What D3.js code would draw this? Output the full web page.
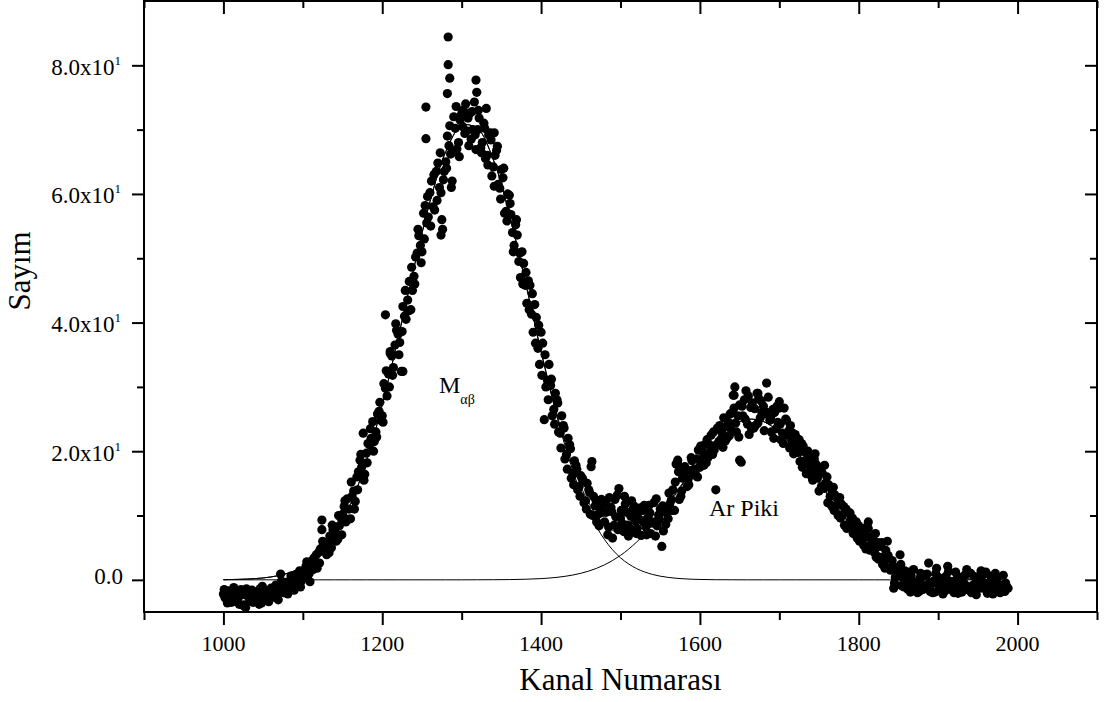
<!DOCTYPE html>
<html><head><meta charset="utf-8">
<script src="https://cdn.jsdelivr.net/npm/d3@7"></script>
<style>html,body{margin:0;padding:0;background:#fff;} svg{display:block;}</style>
</head><body><svg id="c" width="1104" height="702"></svg>
<script>
// ---- data ----
const channelStep = 4;
// counts at channels 1000, 1004, 1008, ...
const channelStartA = 1000;
const countsA = [
 -2.2,-3.0,-1.9,-3.4,-2.6,-3.8,-2.3,-4.3,-2.8,-1.6,
 -3.2,-2.5,-3.6,-1.8,-2.9,-1.3,-2.7,-0.9,0.9,-2.0,
 -0.5,-1.6,0.3,-1.0,1.4,0.2,2.1,1.0,3.0,2.2,
 4.3,9.3,4.6,5.8,5.0,7.4,6.3,9.6,11.4,12.6,
 9.5,13.8,16.0,18.6,22.8,19.7,21.0,24.6,23.0,26.2,
 25.5,29.8,32.0,34.8,36.5,38.2,32.4,41.0,43.5,42.0,
 47.2,50.8,52.0,57.0,55.5,60.2,58.0,63.5,61.0,54.5,
 65.0,67.5,62.0,70.2,68.0,72.5,69.4,71.8,68.5,74.3,
 70.0,67.2,71.0,66.0,69.5,64.2,66.8,60.9,62.5,57.3,
 59.8,54.0,55.2,49.5,51.0,45.8,46.5,41.3,42.8,36.0,
 38.5,24.9,31.0,30.2,26.5,28.0,22.8,24.0,19.5,21.0,
 16.5,17.8,14.5,15.8,12.3,14.0,18.4,11.5,10.2,12.5,
 9.0,7.0,11.3,8.5,13.2,9.6,7.5,10.5,8.0,11.0,
 7.2,9.4,10.8,8.2,11.6,9.0,6.8,10.1,5.2,11.2,
 9.5,12.4,10.8,18.6,13.0,16.2,14.5,17.0,16.3,18.8,
 17.5,19.8,18.2,21.0,19.5,14.0,21.5,22.8,21.6,24.5,
 23.2,30.0,25.5,18.3,28.0,24.2,26.8,23.6,29.0,25.2,
 27.0,30.6,24.8,26.5,23.5,27.7,22.8,25.0,23.2,21.5,
 22.6,19.8,21.2,18.5,20.0,17.2,18.8,15.8,17.5,14.2,
 16.0,13.0,14.4,11.5,12.8,10.2,11.0,8.8,9.6,7.5,
 8.4,6.2,7.0,9.0,5.5,4.2,5.8,3.5,2.8,6.0,
 1.5,-1.3,0.8,3.9,0.2,-0.8,1.2,-1.6,-0.4,-1.8,
 0.5,-1.2,2.6,-0.6,-1.9,0.4,-1.4,-0.3,2.1,-1.0,
 -2.0,0.3,-1.5,-0.5,1.6,-1.7,-0.8,-2.3,0.2,-1.3,
 1.2,-1.9,-0.6,1.0,-1.6,-0.9,-1.8,-1.3
];
// counts at channels 1001, 1005, 1009, ...
const channelStartC = 1001;
const countsC = [
 -1.5,-3.6,-2.6,-1.2,-3.3,-2.0,-4.0,-1.4,-2.5,-3.5,
 -1.9,-3.8,-1.0,-2.3,-3.4,-2.0,-1.1,-3.1,-0.2,-1.5,
 -2.2,0.6,-1.6,0.9,-1.1,0.3,2.8,-0.3,1.6,3.9,
 2.6,6.0,5.5,4.2,8.5,8.0,10.0,7.0,12.3,9.4,
 15.2,11.0,14.0,19.5,15.5,18.2,23.5,20.0,22.2,27.6,
 24.5,32.5,30.0,31.8,39.8,35.0,38.6,45.0,41.8,48.6,
 46.0,54.5,49.3,53.0,59.6,55.0,63.0,59.0,66.4,62.2,
 64.0,70.6,66.5,73.6,65.8,70.5,74.0,67.5,72.8,69.2,
 73.0,66.4,70.2,64.5,68.4,61.2,67.4,59.2,64.0,55.8,
 58.5,51.0,56.0,50.8,46.0,47.8,42.0,44.5,36.8,39.6,
 31.8,35.0,28.0,31.2,24.2,27.5,20.5,23.6,17.2,20.4,
 14.8,17.2,13.0,15.5,11.0,13.6,10.0,12.4,8.4,11.0,
 12.0,8.2,10.6,12.5,7.8,10.8,13.0,8.5,9.9,11.5,
 8.0,11.2,9.0,7.0,10.4,8.8,12.6,9.4,11.5,8.6,
 13.5,10.8,15.2,16.8,13.8,17.6,15.6,19.0,17.2,16.0,
 20.8,17.8,21.8,19.8,23.0,21.0,24.0,20.6,23.8,22.4,
 26.0,24.4,22.2,27.0,25.0,28.6,23.5,26.6,24.4,27.8,
 23.2,26.0,25.2,22.0,27.0,24.2,21.2,24.8,20.5,22.8,
 20.6,21.8,17.5,19.8,18.0,16.0,19.6,16.8,14.5,17.8,
 12.0,14.2,10.8,12.6,9.6,11.4,8.0,10.4,7.2,9.0,
 6.0,7.8,4.8,6.6,5.0,7.2,3.2,5.8,1.8,3.8,
 2.0,-0.5,1.0,2.4,-1.1,0.0,-1.9,1.6,-0.9,0.2,
 -1.5,0.8,-0.4,-2.0,1.0,-0.8,0.2,-1.7,1.3,-0.3,
 -1.2,-2.1,0.4,-0.6,-1.5,1.0,-1.9,-0.2,-1.1,0.8,
 -1.4,-0.4,-2.2,0.4,-1.0,-1.7,-0.5
];
// counts at channels 1002, 1006, 1010, ...
const channelStartB = 1002;
const countsB = [
 -2.8,-1.7,-3.5,-2.1,-3.0,-1.5,-3.9,-2.4,-3.3,-2.0,
 -2.9,-1.4,-2.2,-3.1,-1.9,-2.5,-0.8,-2.0,-1.2,-0.4,
 -1.3,0.0,-0.6,0.8,-0.2,1.5,0.6,2.4,3.4,1.8,
 4.8,5.6,3.9,6.8,7.8,6.0,8.4,10.2,9.0,11.0,
 13.0,12.2,16.8,17.5,16.4,21.2,22.0,21.5,25.8,24.8,
 30.5,28.6,35.2,33.0,38.8,36.9,42.5,40.5,46.4,45.0,
 50.2,53.5,51.0,58.2,56.4,62.0,57.5,64.8,60.2,63.5,
 69.0,66.2,72.0,67.0,71.5,73.0,69.8,72.5,70.0,66.9,
 71.8,68.0,65.5,69.2,62.8,66.0,61.5,63.8,57.0,60.0,
 56.8,52.0,53.6,47.0,49.2,43.0,45.8,38.5,40.8,33.5,
 36.8,30.0,33.5,25.5,29.0,23.0,25.5,18.8,22.0,15.8,
 18.5,14.0,16.2,12.0,15.0,10.2,13.0,9.0,11.8,10.5,
 10.5,12.8,6.5,9.8,14.2,8.8,11.8,6.8,12.3,9.2,
 10.5,6.9,11.6,9.6,7.2,12.0,8.4,11.0,7.6,10.4,
 11.8,14.0,18.0,12.5,15.8,17.0,14.8,18.5,16.6,20.2,
 18.6,21.0,19.0,22.5,20.2,23.6,21.8,25.2,22.0,25.8,
 28.7,23.0,27.2,25.5,29.4,22.6,27.5,24.0,28.2,26.0,
 25.8,28.4,23.0,26.0,24.5,21.8,26.7,22.5,24.0,19.6,
 22.0,18.4,20.8,16.5,19.2,15.5,18.0,13.8,16.6,15.0,
 14.8,11.5,13.2,10.0,11.8,8.5,10.5,9.5,8.2,6.5,
 7.6,5.4,8.2,4.6,6.8,3.5,5.2,2.4,4.6,1.8,
 3.0,0.4,2.0,-0.9,1.4,-1.5,0.6,-0.6,-2.0,1.0,
 -0.9,0.9,-1.8,-0.2,1.8,-1.2,-2.2,0.6,-0.7,-1.6,
 1.2,-0.4,-1.9,0.8,-1.1,-2.0,0.5,-1.4,1.4,-0.7,
 -2.1,0.6,-1.2,-0.3,-2.0,0.7,-1.0
];
// scattered points that stand out from the band
const extraChannels = [1124,1204,1210,1255,1255,1283,1283,1285,1282,1318,1319,1331,1287,1275,1274,1226,1341,1572,1643,1643,1650,1673,1700,1812,1463];
const extraCounts   = [7.8,41.2,35.5,73.5,68.6,84.4,80.1,78.0,75.6,77.7,75.8,73.3,61.0,56.0,53.6,32.4,69.5,18.0,28.7,26.7,18.6,29.0,26.7,8.0,17.6];

// fitted peak components
const fitChannels = [1000,1020,1040,1060,1080,1100,1120,1140,1160,1180,1200,1220,1240,1260,1280,1300,1320,1340,1360,1380,
 1400,1420,1440,1460,1480,1500,1520,1540,1560,1580,1600,1620,1640,1660,1680,1700,1720,1740,1760,1780,
 1800,1820,1840,1860,1880,1900,1920,1940,1960,1980];
const fitPeakMab = [0.03,0.08,0.19,0.45,0.99,2.03,3.89,6.98,11.74,18.47,27.22,37.57,48.56,58.75,66.57,70.63,70.16,65.27,56.85,46.37,
 35.41,25.33,16.96,10.64,6.24,3.43,1.77,0.85,0.38,0.16,0.06,0.02,0.01,0,0,0,0,0,0,0,
 0,0,0,0,0,0,0,0,0,0];
const fitPeakAr = [0,0,0,0,0,0,0,0,0,0,0,0,0,0,0,0,0.01,0.02,0.04,0.09,
 0.19,0.39,0.75,1.36,2.34,3.80,5.84,8.48,11.66,15.16,18.66,21.73,23.94,24.96,24.61,22.97,20.28,16.94,13.39,10.01,
 7.08,4.74,3.00,1.80,1.02,0.55,0.28,0.13,0.06,0.03];

const xMajorTicks = [1000,1200,1400,1600,1800,2000];
const xMinorTicks = [900,1100,1300,1500,1700,1900,2100];
const yMajorTicks = [0,20,40,60,80];
const yMinorTicks = [10,30,50,70];
const yTickMantissa = ["0.0","2.0x10","4.0x10","6.0x10","8.0x10"];
const yTickExponent = ["","1","1","1","1"];
const xTitle = "Kanal Numarası";
const yTitle = "Sayım";

// ---- drawing ----
const L = 144, R = 1097, T = 1, B = 612;
const FONT = "'Liberation Serif','Times New Roman',serif";
const svg = d3.select("#c");
const x = d3.scaleLinear().domain([900, 2100]).range([L, R]);
const y = d3.scaleLinear().domain([-5, 90]).range([B, T]);

const points = countsA.map((v, i) => ({c: channelStartA + i * channelStep, v}))
  .concat(countsC.map((v, i) => ({c: channelStartC + i * channelStep, v})))
  .concat(countsB.map((v, i) => ({c: channelStartB + i * channelStep, v})))
  .concat(extraChannels.map((c, i) => ({c, v: extraCounts[i]})));

const line = d3.line().x(d => x(d[0])).y(d => y(d[1])).curve(d3.curveCatmullRom.alpha(0.5));
const fitTotal = fitPeakMab.map((v, i) => v + fitPeakAr[i]);
const gLines = svg.append("g").attr("fill", "none").attr("stroke", "#000").attr("stroke-width", 1);
[fitPeakMab, fitPeakAr, fitTotal].forEach(arr => {
  gLines.append("path").attr("d", line(fitChannels.map((c, i) => [c, arr[i]])));
});

svg.append("g").selectAll("circle").data(points).join("circle")
  .attr("cx", d => x(d.c)).attr("cy", d => y(d.v)).attr("r", 4.6).attr("fill", "#000");

// axes
function styleAxis(g) {
  g.select(".domain").remove();
  g.selectAll(".tick line").attr("stroke", "#000").attr("stroke-width", 2);
  g.selectAll(".tick text").remove();
}
svg.append("g").attr("transform", `translate(0,${B})`)
  .call(d3.axisBottom(x).tickValues(xMajorTicks).tickSize(13)).call(styleAxis);
svg.append("g").attr("transform", `translate(0,${B})`)
  .call(d3.axisBottom(x).tickValues(xMinorTicks).tickSize(8)).call(styleAxis);
svg.append("g").attr("transform", `translate(0,${T})`)
  .call(d3.axisTop(x).tickValues(xMajorTicks).tickSize(-13)).call(styleAxis);
svg.append("g").attr("transform", `translate(0,${T})`)
  .call(d3.axisTop(x).tickValues(xMinorTicks).tickSize(-7)).call(styleAxis);
svg.append("g").attr("transform", `translate(${L},0)`)
  .call(d3.axisLeft(y).tickValues(yMajorTicks).tickSize(12)).call(styleAxis);
svg.append("g").attr("transform", `translate(${L},0)`)
  .call(d3.axisLeft(y).tickValues(yMinorTicks).tickSize(7)).call(styleAxis);
svg.append("g").attr("transform", `translate(${R},0)`)
  .call(d3.axisRight(y).tickValues(yMajorTicks).tickSize(-12)).call(styleAxis);
svg.append("g").attr("transform", `translate(${R},0)`)
  .call(d3.axisRight(y).tickValues(yMinorTicks).tickSize(-7)).call(styleAxis);

svg.append("rect").attr("x", L).attr("y", T).attr("width", R - L).attr("height", B - T)
  .attr("fill", "none").attr("stroke", "#000").attr("stroke-width", 2);

// x tick labels
svg.append("g").selectAll("text").data(xMajorTicks).join("text")
  .attr("x", d => x(d)).attr("y", 651).attr("text-anchor", "middle")
  .attr("font-family", FONT).attr("font-size", 22).attr("fill", "#000").text(d => d);

// y tick labels
const yl = svg.append("g").attr("font-family", FONT).attr("fill", "#000");
yMajorTicks.forEach((v, i) => {
  const hasExp = yTickExponent[i] !== "";
  const t = yl.append("text").attr("text-anchor", "end")
    .attr("x", hasExp ? 121 : 123).attr("y", y(v) + (hasExp ? 9.5 : 4)).attr("font-size", 23);
  t.append("tspan").text(yTickMantissa[i]);
  if (hasExp) t.append("tspan").attr("font-size", 13).attr("dy", -10).text(yTickExponent[i]);
});

// axis titles
svg.append("text").attr("x", (L + R) / 2).attr("y", 690).attr("text-anchor", "middle")
  .attr("font-family", FONT).attr("font-size", 31).attr("fill", "#000").text(xTitle);
svg.append("text").attr("transform", "translate(30,271) rotate(-90)").attr("text-anchor", "middle")
  .attr("font-family", FONT).attr("font-size", 31).attr("fill", "#000").text(yTitle);

// annotations
const m = svg.append("text").attr("x", 439).attr("y", 393).attr("font-family", FONT)
  .attr("font-size", 24).attr("fill", "#000");
m.append("tspan").text("M");
m.append("tspan").attr("font-size", 14).attr("dy", 11).text("αβ");
svg.append("text").attr("x", 709).attr("y", 516).attr("font-family", FONT)
  .attr("font-size", 24).attr("fill", "#000").text("Ar Piki");
</script></body></html>
